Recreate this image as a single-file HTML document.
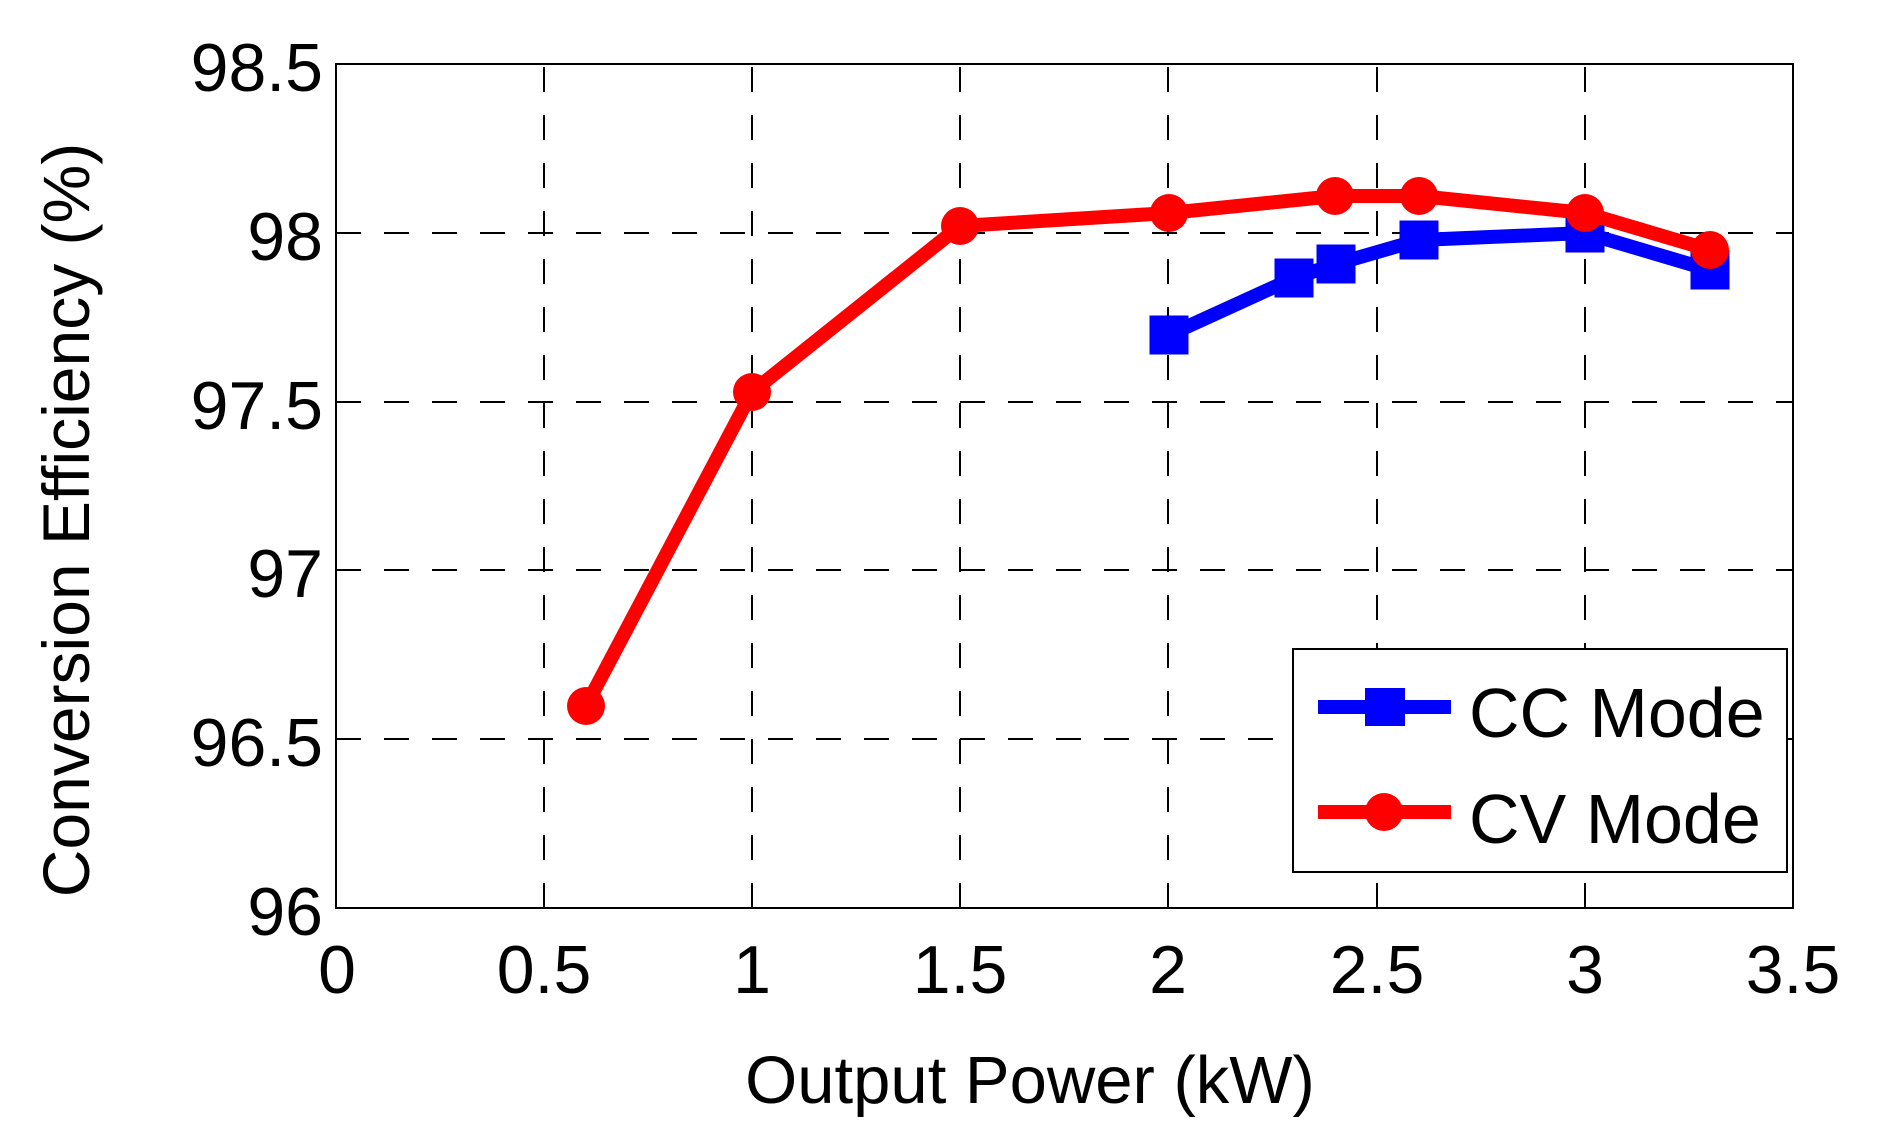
<!DOCTYPE html>
<html><head><meta charset="utf-8"><style>html,body{margin:0;padding:0;background:#fff}svg{display:block}</style></head>
<body>
<svg width="1885" height="1143" viewBox="0 0 1885 1143" xmlns="http://www.w3.org/2000/svg" font-family="Liberation Sans, Arial, sans-serif">
<rect width="1885" height="1143" fill="#fff"/>
<g stroke="#000" stroke-width="2" stroke-dasharray="25,23" fill="none">
<line x1="544" y1="908" x2="544" y2="64"/>
<line x1="752" y1="908" x2="752" y2="64"/>
<line x1="960" y1="908" x2="960" y2="64"/>
<line x1="1168" y1="908" x2="1168" y2="64"/>
<line x1="1377" y1="908" x2="1377" y2="64"/>
<line x1="1585" y1="908" x2="1585" y2="64"/>
<line x1="336" y1="739" x2="1793" y2="739"/>
<line x1="336" y1="570" x2="1793" y2="570"/>
<line x1="336" y1="402" x2="1793" y2="402"/>
<line x1="336" y1="233" x2="1793" y2="233"/>
</g>
<rect x="336" y="64" width="1457" height="844" fill="none" stroke="#000" stroke-width="2"/>
<g font-size="68" fill="#000">
<g text-anchor="end">
<text x="323" y="91">98.5</text>
<text x="323" y="260">98</text>
<text x="323" y="429">97.5</text>
<text x="323" y="597">97</text>
<text x="323" y="766">96.5</text>
<text x="323" y="935">96</text>
</g>
<g text-anchor="middle">
<text x="337" y="993">0</text>
<text x="544" y="993">0.5</text>
<text x="752" y="993">1</text>
<text x="960" y="993">1.5</text>
<text x="1168" y="993">2</text>
<text x="1377" y="993">2.5</text>
<text x="1585" y="993">3</text>
<text x="1793" y="993">3.5</text>
</g>
<text x="1030" y="1103" text-anchor="middle" font-size="67">Output Power (kW)</text>
<text transform="translate(89,520) rotate(-90)" text-anchor="middle" font-size="66">Conversion Efficiency (%)</text>
</g>
<!-- CC -->
<polyline fill="none" stroke="#0000ff" stroke-width="14" stroke-linejoin="round" points="1169,335 1294,278 1336,264 1419,240 1585,233 1710,270"/>
<g fill="#0000ff">
<rect x="1149.5" y="315.5" width="39" height="39"/>
<rect x="1274.5" y="258.5" width="39" height="39"/>
<rect x="1316.5" y="244.5" width="39" height="39"/>
<rect x="1399.5" y="220.5" width="39" height="39"/>
<rect x="1565.5" y="213.5" width="39" height="39"/>
<rect x="1690.5" y="250.5" width="39" height="39"/>
</g>
<!-- CV -->
<polyline fill="none" stroke="#ff0000" stroke-width="14" stroke-linejoin="round" points="586,706 752,392 960,226 1169,213 1335,196 1419,196 1585,213 1710,250"/>
<g fill="#ff0000">
<circle cx="586" cy="706" r="19"/>
<circle cx="752" cy="392" r="19"/>
<circle cx="960" cy="226" r="19"/>
<circle cx="1169" cy="213" r="19"/>
<circle cx="1335" cy="196" r="19"/>
<circle cx="1419" cy="196" r="19"/>
<circle cx="1585" cy="213" r="19"/>
<circle cx="1710" cy="250" r="19"/>
</g>
<!-- legend -->
<rect x="1293" y="649" width="494" height="223" fill="#fff" stroke="#000" stroke-width="2"/>
<line x1="1318" y1="707" x2="1451" y2="707" stroke="#0000ff" stroke-width="14"/>
<rect x="1365" y="688" width="40" height="38" fill="#0000ff"/>
<line x1="1318" y1="812" x2="1451" y2="812" stroke="#ff0000" stroke-width="14"/>
<circle cx="1384" cy="812" r="19" fill="#ff0000"/>
<text x="1469" y="737" font-size="70">CC Mode</text>
<text x="1469" y="843" font-size="70">CV Mode</text>
</svg>
</body></html>
